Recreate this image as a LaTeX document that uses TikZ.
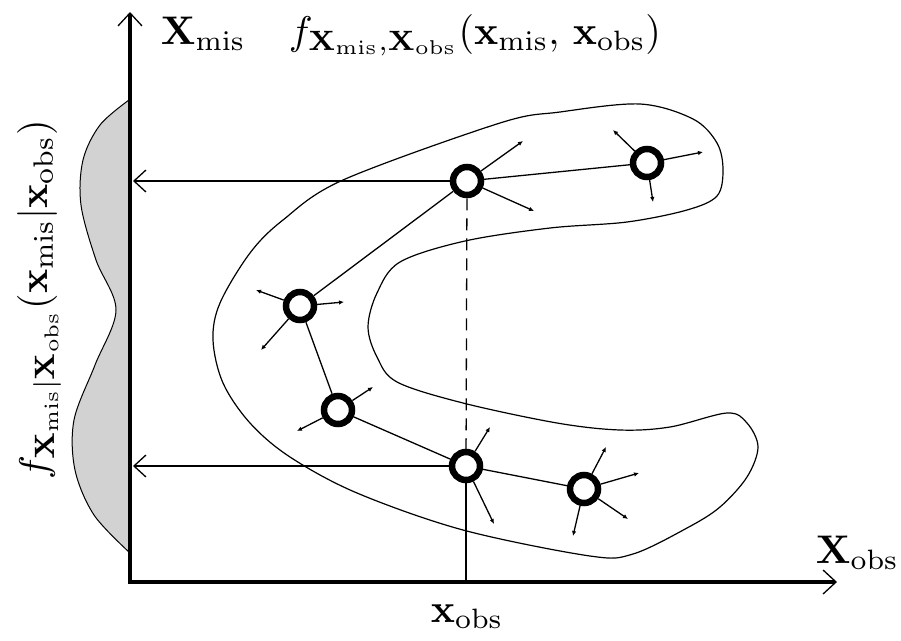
\documentclass[tikz,border=0pt]{standalone}
\usepackage{amsmath}
\usetikzlibrary{arrows.meta}
\begin{document}
\begin{tikzpicture}[x=1pt,y=-1pt,
  lab/.style={inner sep=0pt,scale=4.0},
  pt/.style={circle,draw,line width=6.5pt,fill=white,minimum size=28pt,inner sep=0pt},
  thin/.style={line width=1.3pt},
  small/.style={line width=1.3pt,-{Latex[length=5pt,width=4.5pt]}},
  axis/.style={line width=3.5pt,-{Straight Barb[length=13pt,width=24pt,line width=1.3pt]}},
  harrow/.style={line width=1.3pt,-{Straight Barb[length=12pt,width=22pt]}}
]
\useasboundingbox (0,0) rectangle (901,640);
% density
\fill[gray!35] plot[smooth,tension=0.55] coordinates {(130,100) (100,125) (83,160) (81,205) (96,260) (116,310) (95,365) (74,420) (75,470) (94,515) (130,552)} -- cycle;
\draw[line width=1pt] plot[smooth,tension=0.55] coordinates {(129,100) (100,125) (83,160) (81,205) (96,260) (116,310) (95,365) (74,420) (75,470) (94,515) (129,552)};
% blob
\draw[line width=1.2pt] plot[smooth cycle,tension=0.55] coordinates {
(500,123) (560,112) (640,104) (693,119) (717,143) (723,170) (717,196) (687,210) (627,222) (550,228) (465,241) (400,262) (377,293) (368,327) (377,357) (397,382) (463,403) (557,423) (620,430) (670,427) (727,413) (747,423) (758,447) (747,477) (720,507) (687,528) (633,554) (590,556) (463,530) (357,493) (290,457) (250,423) (223,383) (213,340) (220,303) (250,253) (283,220) (343,180)};
% axes
\coordinate (ytip) at (130,12);
\coordinate (xtip) at (837,582);
\coordinate (yax) at (133,0);
\coordinate (xax) at (0,582);
\draw[axis] (130,584) -- (ytip);
\draw[axis] (128,582) -- (xtip);
% points
\node[pt] (A) at (467,181) {};
\node[pt] (B) at (647,163) {};
\node[pt] (C) at (300,306) {};
\node[pt] (D) at (338,410) {};
\node[pt] (E) at (466,466) {};
\node[pt] (F) at (584,489) {};
% chain
\draw[thin] (B) -- (A);
\draw[thin] (A) -- (C);
\draw[thin] (C) -- (D);
\draw[thin] (D) -- (E);
\draw[thin] (E) -- (F);
\draw[thin,dash pattern=on 12pt off 8pt] (A) -- (E);
\draw[thin] (E) -- (E |- xax);
\draw[harrow] (A) -- (A -| yax);
\draw[harrow] (E) -- (E -| yax);
% small arrows
\coordinate (a1) at (523,141); \coordinate (a2) at (534,211);
\coordinate (b1) at (613,130); \coordinate (b2) at (703,152); \coordinate (b3) at (653,202);
\coordinate (c1) at (256,290); \coordinate (c2) at (344,302); \coordinate (c3) at (261,350);
\coordinate (d1) at (373,387); \coordinate (d2) at (297,431);
\coordinate (e1) at (490,427); \coordinate (e2) at (494,524);
\coordinate (f1) at (606,447); \coordinate (f2) at (639,473); \coordinate (f3) at (628,519); \coordinate (f4) at (573,536);
\foreach \n/\t in {A/a1,A/a2,B/b1,B/b2,B/b3,C/c1,C/c2,C/c3,D/d1,D/d2,E/e1,E/e2,F/f1,F/f2,F/f3,F/f4}
  \draw[small] (\n) -- (\t);
% labels
\node[lab,anchor=base west] (xmis) at (160,44) {$\mathbf{X}_{\mathrm{mis}}$};
\node[lab,anchor=base west] (title) at (288,44) {$f_{\mathbf{X}_{\mathrm{mis}},\mathbf{X}_{\mathrm{obs}}}(\mathbf{x}_{\mathrm{mis}},\,\mathbf{x}_{\mathrm{obs}})$};
\node[lab,anchor=base west] (Xobs) at (815,563) {$\mathbf{X}_{\mathrm{obs}}$};
\node[lab,anchor=base west] (xobs) at (430,622) {$\mathbf{x}_{\mathrm{obs}}$};
\node[lab,anchor=base west,rotate=90] (cond) at (47,480) {$f_{\mathbf{X}_{\mathrm{mis}}|\mathbf{X}_{\mathrm{obs}}}(\mathbf{x}_{\mathrm{mis}}|\mathbf{x}_{\mathrm{obs}})$};
\end{tikzpicture}
\end{document}
